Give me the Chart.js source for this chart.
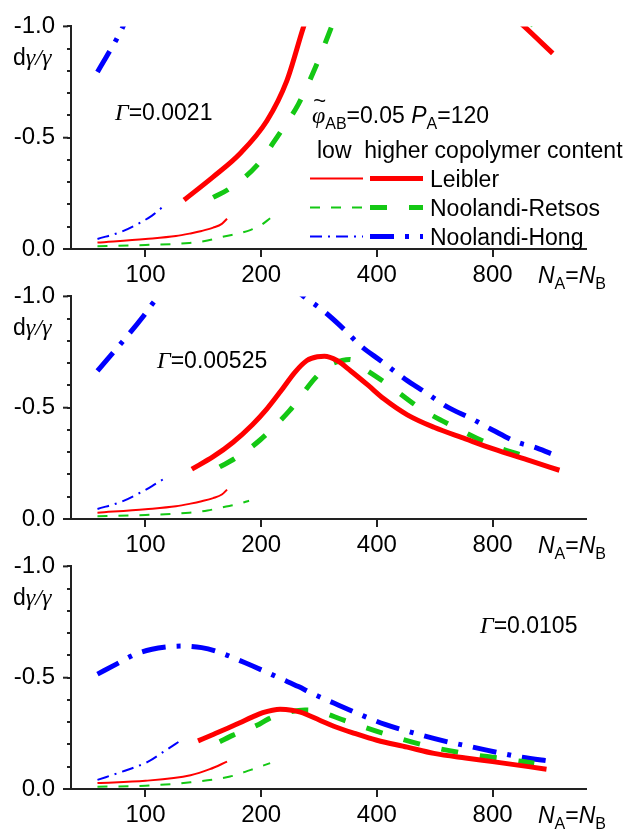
<!DOCTYPE html>
<html>
<head>
<meta charset="utf-8">
<script src="https://cdn.jsdelivr.net/npm/chart.js@4/dist/chart.umd.min.js"></script>
<style>
  html, body { margin: 0; padding: 0; background: #fff; overflow: hidden; }
  #wrap { position: relative; width: 634px; height: 831px; }
  canvas { position: absolute; left: 0; }
</style>
</head>
<body>
<div id="wrap">
  <canvas id="c1" width="634" height="296" style="top:0px"></canvas>
  <canvas id="c2" width="634" height="296" style="top:270px"></canvas>
  <canvas id="c3" width="634" height="291" style="top:540px"></canvas>
</div>
<script>
// axis ticks
const xTicks = [100, 200, 400, 800]
const yMajor = [-1.0, -0.5, 0.0]

const seriesNames = ['Leibler', 'Noolandi-Retsos', 'Noolandi-Hong']
const gammaLabels = ['0.0021', '0.00525', '0.0105']

// panel 1, Γ = 0.0021  ([N, dγ/γ])
const p1LeiblerLow = [[75, -0.029], [100, -0.045], [120, -0.058], [131, -0.07], [140, -0.081], [150, -0.096], [158, -0.113], [163, -0.136]]
const p1LeiblerHigh = [[126, -0.22], [150, -0.324], [176, -0.428], [207, -0.576], [233, -0.754], [258, -1.0], [290, -1.25], [400, -1.6], [600, -1.5], [800, -1.13], [967, -1.0], [1147, -0.879]]
const p1RetsosLow = [[75, -0.012], [100, -0.018], [130, -0.027], [145, -0.038], [160, -0.056], [175, -0.07], [188, -0.086], [200, -0.108], [211, -0.138]]
const p1RetsosHigh = [[150, -0.232], [165, -0.27], [195, -0.376], [220, -0.503], [250, -0.651], [279, -0.83], [303, -0.987], [330, -1.15], [450, -1.5], [800, -1.2], [1027, -1.0], [1105, -0.964]]
const p1HongLow = [[75, -0.045], [87, -0.079], [97, -0.119], [104, -0.15], [111, -0.19]]
const p1HongHigh = [[75, -0.795], [87.4, -1.0], [100, -1.25], [130, -1.6], [300, -2.0], [1150, -1.5]]

// panel 2, Γ = 0.00525
const p2LeiblerLow = [[75, -0.028], [100, -0.044], [120, -0.057], [131, -0.069], [140, -0.08], [150, -0.094], [158, -0.11], [163, -0.132]]
const p2LeiblerHigh = [[132, -0.224], [150, -0.28], [169, -0.345], [190, -0.425], [207, -0.495], [225, -0.575], [245, -0.66], [263, -0.712], [280, -0.729], [292, -0.731], [315, -0.712], [342, -0.665], [380, -0.6], [417, -0.54], [480, -0.468], [563, -0.412], [680, -0.36], [800, -0.316], [1000, -0.262], [1194, -0.219]]
const p2RetsosLow = [[75, -0.012], [100, -0.018], [130, -0.028], [145, -0.038], [160, -0.054], [175, -0.068], [186, -0.082]]
const p2RetsosHigh = [[156, -0.234], [171, -0.272], [199, -0.356], [237, -0.487], [277, -0.635], [300, -0.69], [325, -0.712], [340, -0.717], [367, -0.68], [424, -0.608], [522, -0.494], [650, -0.405], [812, -0.326], [979, -0.279], [1027, -0.264]]
const p2HongLow = [[75, -0.045], [87, -0.079], [97, -0.119], [104, -0.148], [111, -0.178]]
const p2HongHigh = [[75, -0.665], [98.6, -0.91], [103.7, -0.962], [115, -1.05], [150, -1.2], [200, -1.15], [258, -1.0], [288, -0.94], [325, -0.86], [362, -0.78], [410, -0.71], [474, -0.628], [536, -0.568], [608, -0.505], [707, -0.45], [800, -0.4], [927, -0.345], [1027, -0.323], [1135, -0.294]]

// panel 3, Γ = 0.0105
const p3LeiblerLow = [[75, -0.027], [100, -0.037], [131, -0.062], [147, -0.089], [163, -0.123]]
const p3LeiblerHigh = [[137, -0.216], [150, -0.245], [163, -0.272], [176, -0.298], [190, -0.324], [202, -0.343], [214, -0.354], [224, -0.358], [240, -0.354], [253, -0.345], [284, -0.309], [309, -0.282], [350, -0.25], [400, -0.219], [480, -0.188], [563, -0.16], [680, -0.139], [800, -0.123], [1105, -0.089]]
const p3RetsosLow = [[75, -0.01], [100, -0.015], [131, -0.03], [166, -0.056], [188, -0.086], [211, -0.116]]
const p3RetsosHigh = [[156, -0.212], [169, -0.242], [195, -0.286], [209, -0.315], [235, -0.345], [260, -0.355], [280, -0.35], [328, -0.309], [417, -0.249], [530, -0.197], [676, -0.16], [838, -0.138], [1027, -0.116]]
const p3HongLow = [[75, -0.041], [87, -0.078], [101.6, -0.123], [112, -0.17], [123, -0.216]]
const p3HongHigh = [[75, -0.516], [84, -0.561], [94, -0.605], [104, -0.628], [113, -0.638], [124, -0.642], [140, -0.635], [155, -0.615], [181, -0.568], [207, -0.524], [224, -0.497], [250, -0.46], [271, -0.43], [310, -0.385], [358, -0.338], [420, -0.29], [505, -0.249], [600, -0.215], [703, -0.19], [937, -0.145], [1147, -0.123]]

const SANS = '"Liberation Sans", Arial, sans-serif'
const SERIF = '"Liberation Serif", "Times New Roman", serif'
const RED = '#ff0000'
const GREEN = '#14c814'
const BLUE = '#0000ff'
const AXIS = '#222'

// line looks: [colour, width, dash]
const looks = {
  leiblerLow: [RED, 2, []],
  leiblerHigh: [RED, 5, []],
  retsosLow: [GREEN, 2, [10, 11]],
  retsosHigh: [GREEN, 5, [17, 22]],
  hongLow: [BLUE, 2, [12, 6, 2, 6]],
  hongHigh: [BLUE, 5, [24, 11, 4, 11]],
}

const panels = [
  { id: 'c1', h: 296, gamma: gammaLabels[0], gx: 115, gy: 120, legend: true,
    sets: [p1LeiblerLow, p1LeiblerHigh, p1RetsosLow, p1RetsosHigh, p1HongLow, p1HongHigh] },
  { id: 'c2', h: 296, gamma: gammaLabels[1], gx: 157, gy: 98, legend: false,
    sets: [p2LeiblerLow, p2LeiblerHigh, p2RetsosLow, p2RetsosHigh, p2HongLow, p2HongHigh] },
  { id: 'c3', h: 291, gamma: gammaLabels[2], gx: 480, gy: 93, legend: false,
    sets: [p3LeiblerLow, p3LeiblerHigh, p3RetsosLow, p3RetsosHigh, p3HongLow, p3HongHigh] },
]
const lookOrder = ['leiblerLow', 'leiblerHigh', 'retsosLow', 'retsosHigh', 'hongLow', 'hongHigh']

// draw a run of mixed-font text pieces
function drawRuns(ctx, x, y, runs) {
  runs.forEach(r => {
    ctx.font = r.f
    ctx.fillText(r.t, x, y + (r.dy || 0))
    x += ctx.measureText(r.t).width
  })
  return x
}

const big = `23px ${SANS}`
const bigIt = `italic 23px ${SANS}`
const greek = `italic 24px ${SERIF}`
const sub = `16px ${SANS}`

function sample(ctx, x1, x2, y, look) {
  ctx.save()
  ctx.strokeStyle = look[0]
  ctx.lineWidth = look[1]
  ctx.setLineDash(look[2])
  ctx.lineCap = 'butt'
  ctx.beginPath()
  ctx.moveTo(x1, y)
  ctx.lineTo(x2, y)
  ctx.stroke()
  ctx.restore()
}

const textPlugin = {
  id: 'texts',
  afterDraw(chart) {
    const ctx = chart.ctx
    const p = chart.options.plugins.texts
    const y = chart.scales.y
    const left = chart.chartArea.left
    ctx.save()
    // longer marks at the labelled y ticks
    ctx.strokeStyle = AXIS
    ctx.lineWidth = 2
    yMajor.forEach(v => {
      const py = y.getPixelForValue(v)
      ctx.beginPath()
      ctx.moveTo(left - 8, py)
      ctx.lineTo(left - 3, py)
      ctx.stroke()
    })
    ctx.fillStyle = '#000'
    ctx.textBaseline = 'alphabetic'
    ctx.textAlign = 'left'
    drawRuns(ctx, 13, 65, [{ t: 'd', f: big }, { t: 'γ/γ', f: greek }])
    drawRuns(ctx, p.gx, p.gy, [{ t: 'Γ', f: greek }, { t: '=' + p.gamma, f: big }])
    drawRuns(ctx, 538, chart.chartArea.bottom + 34, [
      { t: 'N', f: bigIt }, { t: 'A', f: sub, dy: 6 }, { t: '=', f: big },
      { t: 'N', f: bigIt }, { t: 'B', f: sub, dy: 6 }])
    if (p.legend) {
      ctx.font = greek
      const w = ctx.measureText('φ').width
      ctx.font = `22px ${SANS}`
      ctx.textAlign = 'center'
      ctx.fillText('~', 312 + w / 2 + 1, 108)
      ctx.textAlign = 'left'
      drawRuns(ctx, 312, 123, [
        { t: 'φ', f: greek }, { t: 'AB', f: sub, dy: 6 }, { t: '=0.05 ', f: big },
        { t: 'P', f: bigIt }, { t: 'A', f: sub, dy: 6 }, { t: '=120', f: big }])
      drawRuns(ctx, 317, 158, [{ t: 'low  higher copolymer content', f: big }])
      const rows = [178.5, 207.5, 236.5]
      seriesNames.forEach((name, i) => {
        sample(ctx, 310, 363, rows[i], looks[lookOrder[i * 2]])
        sample(ctx, 370, 423, rows[i], looks[lookOrder[i * 2 + 1]])
        drawRuns(ctx, 430, rows[i] + 8.5, [{ t: name, f: big }])
      })
    }
    ctx.restore()
  }
}

function makePanel(p) {
  return new Chart(document.getElementById(p.id), {
    type: 'line',
    data: {
      datasets: p.sets.map((pts, i) => {
        const look = looks[lookOrder[i]]
        return {
          data: pts.map(([x, y]) => ({ x, y })),
          borderColor: look[0],
          borderWidth: look[1],
          borderDash: look[2],
          borderCapStyle: 'butt',
          cubicInterpolationMode: 'monotone',
          pointRadius: 0,
          fill: false,
          clip: 0,
        }
      })
    },
    options: {
      responsive: false,
      animation: false,
      devicePixelRatio: 1,
      layout: { padding: { top: 25, right: 48, left: 0, bottom: 0 } },
      plugins: {
        legend: { display: false },
        tooltip: { enabled: false },
        texts: { gamma: p.gamma, gx: p.gx, gy: p.gy, legend: p.legend },
      },
      scales: {
        x: {
          type: 'logarithmic',
          min: 64,
          max: 1400,
          afterBuildTicks: s => { s.ticks = xTicks.map(v => ({ value: v })) },
          afterFit: s => { s.height = p.h - 249 },
          ticks: { callback: v => String(v), color: '#000', font: { family: SANS, size: 24 }, padding: 4, maxRotation: 0, autoSkip: false },
          grid: { drawOnChartArea: false, tickLength: 8, color: AXIS, lineWidth: 2 },
          border: { color: AXIS, width: 2 },
        },
        y: {
          min: -1,
          max: 0,
          reverse: true,
          afterFit: s => { s.width = 71 },
          ticks: {
            stepSize: 0.1,
            autoSkip: false,
            color: '#000',
            font: { family: SANS, size: 24 },
            padding: 12,
            callback: v => {
              const r = Math.round(v * 10)
              return r % 5 === 0 ? (r / 10).toFixed(1) : ''
            }
          },
          grid: { drawOnChartArea: false, tickLength: 4, color: AXIS, lineWidth: 2 },
          border: { color: AXIS, width: 2 },
        }
      }
    },
    plugins: [textPlugin]
  })
}

panels.forEach(makePanel)
</script>
</body>
</html>
